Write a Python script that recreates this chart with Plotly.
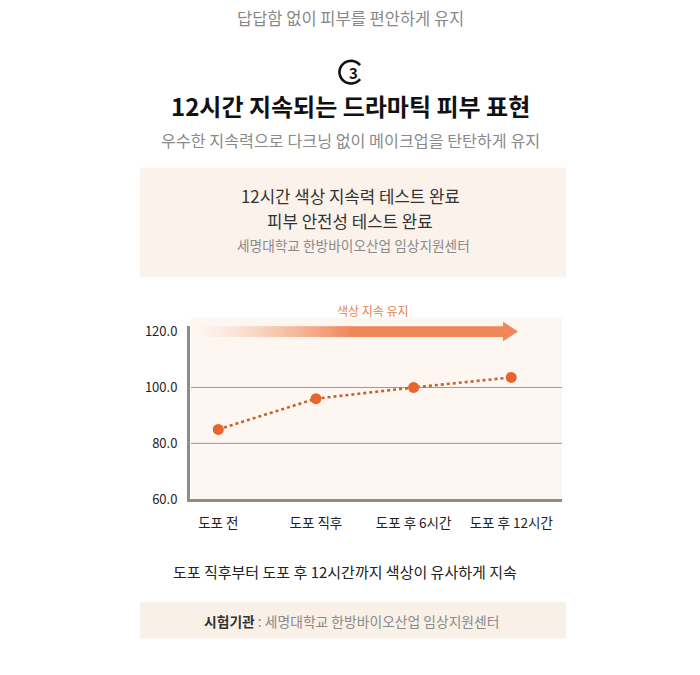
import plotly.graph_objects as go
import math

categories = ["도포 전", "도포 직후", "도포 후 6시간", "도포 후 12시간"]
values = [85.0, 96.0, 100.0, 103.6]
y_ticks = [60, 80, 100, 120]
grid_values = [80, 100]

W, H = 700, 675
FONT = "Noto Sans CJK KR"


def px(x):
    return x / W


def py(y):
    return 1 - y / H


fig = go.Figure()

fig.add_trace(go.Scatter(
    x=categories, y=values, mode="lines+markers",
    line=dict(color="#c8622c", width=2.6, dash="dot"),
    marker=dict(color="#e8642c", size=11),
    hoverinfo="skip", showlegend=False,
))

shapes = []
annotations = []

# background boxes
shapes.append(dict(type="rect", xref="paper", yref="paper", x0=px(140), x1=px(566),
                   y0=py(167), y1=py(278), fillcolor="#faf2eb", line=dict(width=0), layer="below"))
shapes.append(dict(type="rect", xref="paper", yref="paper", x0=px(140), x1=px(566),
                   y0=py(610), y1=py(647), fillcolor="#f9f0e7", line=dict(width=0), layer="below"))
# plot background
shapes.append(dict(type="rect", xref="paper", yref="paper", x0=px(191), x1=px(562),
                   y0=py(505), y1=py(320), fillcolor="#fdf6f1", line=dict(width=0), layer="below"))

# gridlines
for g in grid_values:
    shapes.append(dict(type="line", xref="paper", yref="y", x0=px(191), x1=px(562), y0=g, y1=g,
                       line=dict(color="#9a9a9a", width=1), layer="below"))

# gradient arrow
ar_x0, ar_full, ar_x1 = 195, 350, 504
ay0, ay1 = 328.5, 339.5
step = 3
x = ar_x0
while x < ar_full:
    a = (x - ar_x0) / (ar_full - ar_x0)
    a = max(0.0, min(1.0, a)) ** 1.3
    shapes.append(dict(type="rect", xref="paper", yref="paper", x0=px(x), x1=px(x + step),
                       y0=py(ay1), y1=py(ay0), fillcolor=f"rgba(239,135,88,{a:.3f})",
                       line=dict(width=0)))
    x += step
shapes.append(dict(type="rect", xref="paper", yref="paper", x0=px(ar_full), x1=px(ar_x1 + 1),
                   y0=py(ay1), y1=py(ay0), fillcolor="rgb(239,135,88)", line=dict(width=0)))
path = f"M {px(503)} {py(324)} L {px(518)} {py(334)} L {px(503)} {py(344)} Z"
shapes.append(dict(type="path", xref="paper", yref="paper", path=path,
                   fillcolor="rgb(239,135,88)", line=dict(width=0)))

# circled 3 (open arc)
cx, cy, r = 351, 69.5, 11.5
pts = []
for i in range(0, 61):
    ang = math.radians(38 + i * (284 / 60))
    pts.append((cx + r * math.cos(ang), cy - r * math.sin(ang)))
arc = "M " + " L ".join(f"{px(a)} {py(b)}" for a, b in pts)
shapes.append(dict(type="path", xref="paper", yref="paper", path=arc,
                   line=dict(color="#111111", width=2.6)))


def txt(x, y, s, size, color, bold=False, xanchor="center"):
    if bold:
        s = f"<b>{s}</b>"
    annotations.append(dict(x=px(x), y=py(y), xref="paper", yref="paper", text=s,
                            showarrow=False, xanchor=xanchor, yanchor="middle",
                            font=dict(family=FONT, size=size, color=color)))


txt(350, 14, "답답함 없이 피부를 편안하게 유지", 16.5, "#888888")
txt(353, 70, "3", 15, "#111111", bold=True)
txt(350, 103, "12시간 지속되는 드라마틱 피부 표현", 24, "#111111", bold=True)
txt(350, 139, "우수한 지속력으로 다크닝 없이 메이크업을 탄탄하게 유지", 16.2, "#8a8a8a")
txt(350, 196, "12시간 색상 지속력 테스트 완료", 16.8, "#333333")
txt(350, 221, "피부 안전성 테스트 완료", 16.8, "#333333")
txt(353, 246, "세명대학교 한방바이오산업 임상지원센터", 13.7, "#8a8a8a")
txt(373, 313, "색상 지속 유지", 12, "#e5844f")
txt(345, 579, "도포 직후부터 도포 후 12시간까지 색상이 유사하게 지속", 15, "#222222")
txt(351, 629, "<b style='color:#333333'>시험기관</b> : 세명대학교 한방바이오산업 임상지원센터", 13.8, "#8a8a8a")

y_lo, y_hi = 60, 60 + (505 - 328) / 2.85

fig.update_layout(
    width=W, height=H,
    margin=dict(l=0, r=0, t=0, b=0),
    paper_bgcolor="white",
    plot_bgcolor="rgba(0,0,0,0)",
    shapes=shapes,
    annotations=annotations,
    font=dict(family=FONT),
    xaxis=dict(domain=[px(190), px(562)], type="category",
               range=[-0.29, 3.52], showgrid=False, zeroline=False,
               showline=True, linecolor="#8c8c8c", linewidth=3,
               ticks="", ticklabelstandoff=10,
               tickfont=dict(family=FONT, size=13.5, color="#222222"),
               fixedrange=True),
    yaxis=dict(domain=[py(505), py(328)], range=[y_lo, y_hi],
               tickvals=y_ticks, tickformat=".1f", showgrid=False, zeroline=False,
               showline=True, linecolor="#8c8c8c", linewidth=3,
               ticks="", ticklabelstandoff=7,
               tickfont=dict(family=FONT, size=13, color="#222222"),
               fixedrange=True),
)

fig.write_html("out.html")
